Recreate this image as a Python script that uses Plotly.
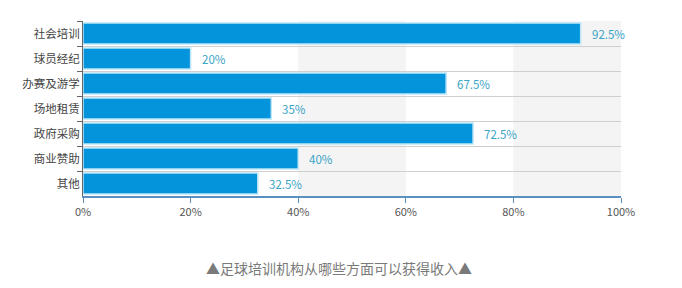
import plotly.graph_objects as go

categories = ["社会培训", "球员经纪", "办赛及游学", "场地租赁", "政府采购", "商业赞助", "其他"]
values = [92.5, 20, 67.5, 35, 72.5, 40, 32.5]
value_labels = ["92.5%", "20%", "67.5%", "35%", "72.5%", "40%", "32.5%"]
x_ticks = [0, 20, 40, 60, 80, 100]
x_tick_labels = ["0%", "20%", "40%", "60%", "80%", "100%"]
shaded_bands = [(40, 60), (80, 100)]
caption = "▲足球培训机构从哪些方面可以获得收入▲"

font = "Noto Sans CJK SC, Noto Sans, sans-serif"

fig = go.Figure()
fig.add_trace(go.Bar(
    y=categories, x=values, orientation="h",
    marker=dict(color="#0394dc", line=dict(color="#bde6f7", width=1.5)),
    cliponaxis=False,
))

for cat, v, lab in zip(categories, values, value_labels):
    fig.add_annotation(x=v, y=cat, text=lab, showarrow=False, xanchor="left",
                       xshift=9, font=dict(color="#3aa3c6", size=11.5, family=font))

for a, b in shaded_bands:
    fig.add_shape(type="rect", xref="x", yref="paper", x0=a, x1=b, y0=0, y1=1,
                  fillcolor="#f4f4f4", line=dict(width=0), layer="below")

fig.add_annotation(text=caption, xref="paper", yref="paper", x=0.476, y=-0.41,
                   xanchor="center", yanchor="middle", showarrow=False,
                   font=dict(size=14, color="#7a7a7a", family=font))

fig.update_layout(
    width=682, height=288,
    margin=dict(l=83, r=61, t=21, b=92),
    plot_bgcolor="white", paper_bgcolor="white",
    bargap=0.16,
    showlegend=False,
    font=dict(family=font, size=11, color="#555"),
    xaxis=dict(range=[0, 100], tickvals=x_ticks, ticktext=x_tick_labels,
               showgrid=False, zeroline=False, showline=True, linecolor="#5b8fc0",
               linewidth=1.5, ticks="outside", ticklen=5, tickcolor="#5b8fc0",
               tickfont=dict(size=11, color="#555")),
    yaxis=dict(autorange="reversed", type="category", tickson="boundaries",
               showgrid=True, gridcolor="#cfcfcf", gridwidth=1,
               showline=True, linecolor="#666", linewidth=1,
               ticks="outside", ticklen=5, tickcolor="#666",
               tickfont=dict(size=11.5, color="#444")),
)

fig.write_html("out.html")
